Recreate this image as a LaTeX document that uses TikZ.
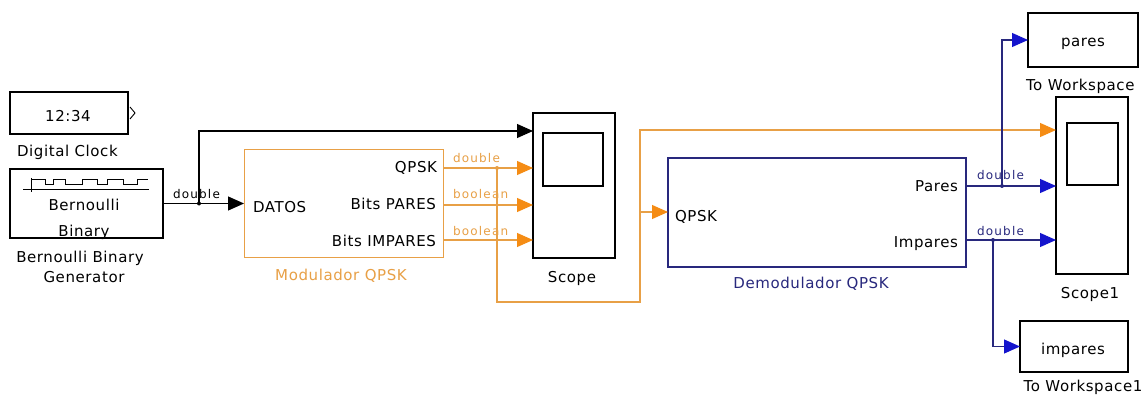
\documentclass[tikz,border=0pt]{standalone}
\usepackage{fontspec}
\setmainfont{DejaVu Sans}[LetterSpace=4]
\newfontfamily\tagfont[LetterSpace=10]{DejaVu Sans}
\usetikzlibrary{arrows.meta}
\definecolor{modorange}{RGB}{232,160,70}
\definecolor{tiporange}{RGB}{245,140,20}
\definecolor{demodnavy}{RGB}{40,40,125}
\definecolor{tipblue}{RGB}{20,20,205}
\begin{document}
\begin{tikzpicture}[x=1pt,y=-1pt,
  blk/.style={draw,line width=1.2pt,inner sep=0pt,outer sep=0pt},
  txt/.style={inner sep=0pt,outer sep=0pt,anchor=base,font=\fontsize{15}{18}\selectfont},
  tag/.style={inner sep=0pt,outer sep=0pt,anchor=base west,font=\tagfont\fontsize{12}{14}\selectfont},
  wire/.style={line width=1.1pt},
  sig/.style={wire,-{Triangle[length=16pt,width=14pt]}},
  sigO/.style={wire,draw=modorange,-{Triangle[length=16pt,width=14pt,color=tiporange]}},
  sigB/.style={wire,draw=demodnavy,-{Triangle[length=16pt,width=14pt,color=tipblue]}},
  jdot/.style={circle,fill,inner sep=0pt,minimum size=4pt}]
\path[use as bounding box,fill=white] (0,0) rectangle (1145,398);
\node[blk,minimum width=118pt,minimum height=42pt] (clock) at (69,113) {};
\node[txt] (clockTxt) at (68,122) {12:34};
\draw[line width=0.9pt] ([shift={(2,-6)}]clock.east) -- ([shift={(7,0)}]clock.east) -- ([shift={(2,6)}]clock.east);
\node[txt,anchor=base west] (clockLbl) at (17,157) {Digital Clock};
\node[blk,minimum width=153pt,minimum height=69pt] (bern) at (86.5,203.5) {};
\begin{scope}[shift={(bern.north west)},line width=0.9pt]
\draw (13,20) -- (139,20);
\draw (21,9) -- (21,23);
\draw (21,15) -- (21,10) -- (35,10) -- (35,15) -- (43,15) -- (43,10) -- (55,10) -- (55,15) -- (72,15) -- (72,10) -- (87,10) -- (87,15) -- (97,15) -- (97,10) -- (113,10) -- (113,15) -- (127,15) -- (127,10) -- (138,10);
\end{scope}
\node[txt] (bernTxt1) at (84,211) {Bernoulli};
\node[txt] (bernTxt2) at (84,236) {Binary};
\node[txt] (bernLbl1) at (80,262) {Bernoulli Binary};
\node[txt] (bernLbl2) at (84,282) {Generator};
\node[blk,draw=modorange,line width=1pt,minimum width=199pt,minimum height=107pt] (mod) at (343.5,203.5) {};
\node[txt,anchor=base west] (modIn) at (253,212) {DATOS};
\node[txt,anchor=base east] (modQ) at (437,173) {QPSK};
\node[txt,anchor=base east] (modP) at (436,210) {Bits PARES};
\node[txt,anchor=base east] (modI) at (436,246) {Bits IMPARES};
\node[txt,text=modorange] (modLbl) at (341,280) {Modulador QPSK};
\node[blk,minimum width=82pt,minimum height=145pt] (scope) at (574,185.5) {};
\draw[line width=1.2pt] ([shift={(10,20)}]scope.north west) rectangle ([shift={(70,73)}]scope.north west);
\node[txt] (scopeLbl) at (572,282) {Scope};
\node[blk,draw=demodnavy,minimum width=298pt,minimum height=109pt] (demod) at (817,212.5) {};
\node[txt,anchor=base west] (dmQ) at (675,221) {QPSK};
\node[txt,anchor=base east] (dmP) at (958,192) {Pares};
\node[txt,anchor=base east] (dmI) at (958,247) {Impares};
\node[txt,text=demodnavy] (demodLbl) at (811,288) {Demodulador QPSK};
\node[blk,minimum width=72pt,minimum height=177pt] (scope1) at (1092,185.5) {};
\draw[line width=1.2pt] ([shift={(11,26)}]scope1.north west) rectangle ([shift={(62,88)}]scope1.north west);
\node[txt] (scope1Lbl) at (1090,298) {Scope1};
\node[blk,minimum width=110pt,minimum height=54pt] (pares) at (1083,40) {};
\node[txt] (paresTxt) at (1083,47) {pares};
\node[txt,anchor=base west] (paresLbl) at (1026,91) {To Workspace};
\node[blk,minimum width=108pt,minimum height=51pt] (impares) at (1074,346.5) {};
\node[txt] (imparesTxt) at (1073,354) {impares};
\node[txt] (imparesLbl) at (1083,391) {To Workspace1};
\coordinate (scIn1) at (533,131);
\coordinate (scIn2) at (533,168);
\coordinate (scIn3) at (533,205);
\coordinate (scIn4) at (533,240);
\coordinate (modOut1) at (443,168);
\coordinate (modOut2) at (443,205);
\coordinate (modOut3) at (443,240);
\coordinate (dmIn) at (668,212);
\coordinate (dmOut1) at (966,186);
\coordinate (dmOut2) at (966,240);
\coordinate (sc1In1) at (1056,130);
\coordinate (sc1In2) at (1056,186);
\coordinate (sc1In3) at (1056,240);
\coordinate (j1) at (199,203.5);
\coordinate (j2) at (497,168);
\coordinate (j3) at (640,212);
\coordinate (j4) at (1002,186);
\coordinate (j5) at (993,240);
\coordinate (bend) at (640,302);
\draw[sig] (bern.east) -- (mod.west);
\draw[sig] (j1) |- (scIn1);
\node[jdot] (j1dot) at (j1) {};
\node[tag] (tagBern) at (173,199) {double};
\draw[sigO] (modOut1) -- (scIn2);
\draw[sigO] (modOut2) -- (scIn3);
\draw[sigO] (modOut3) -- (scIn4);
\draw[sigO] (j2) |- (bend) |- (sc1In1);
\draw[sigO] (j3) -- (dmIn);
\node[jdot,fill=modorange] (j2dot) at (j2) {};
\node[tag,text=modorange] (tagQ) at (453,163) {double};
\node[tag,text=modorange] (tagP) at (453,199) {boolean};
\node[tag,text=modorange] (tagI) at (453,235) {boolean};
\draw[sigB] (dmOut1) -- (sc1In2);
\draw[sigB] (dmOut2) -- (sc1In3);
\draw[sigB] (j4) |- (pares.west);
\draw[sigB] (j5) |- (impares.west);
\node[jdot,fill=demodnavy] (j4dot) at (j4) {};
\node[jdot,fill=demodnavy] (j5dot) at (j5) {};
\node[tag,text=demodnavy] (tagPares) at (977,180) {double};
\node[tag,text=demodnavy] (tagImpares) at (977,235) {double};
\end{tikzpicture}
\end{document}
